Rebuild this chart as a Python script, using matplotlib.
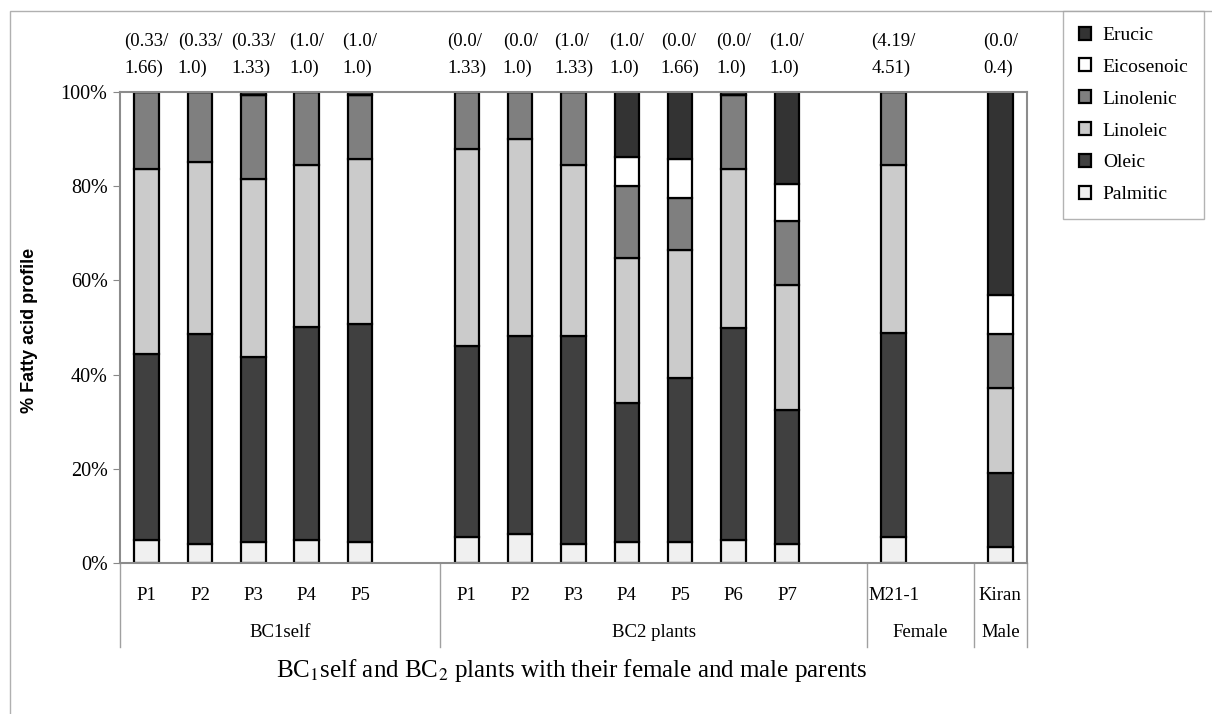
import numpy as np
import matplotlib
matplotlib.use("Agg")
from matplotlib import pyplot as plt
from matplotlib.patches import Patch, Rectangle
from matplotlib.transforms import blended_transform_factory

plt.rcParams["font.family"] = ["Liberation Serif", "DejaVu Serif"]
plt.rcParams["mathtext.fontset"] = "stix"

# bar labels, groups and the numbers printed above each bar
bar_labels = ["P1", "P2", "P3", "P4", "P5",
              "P1", "P2", "P3", "P4", "P5", "P6", "P7",
              "M21-1", "Kiran"]
bar_slots = [0, 1, 2, 3, 4, 6, 7, 8, 9, 10, 11, 12, 14, 16]
groups = ["BC1self", "BC2 plants", "Female", "Male"]
group_edges = [-0.5, 5.5, 13.5, 15.5, 16.5]
top_notes = ["(0.33/\n1.66)", "(0.33/\n1.0)", "(0.33/\n1.33)", "(1.0/\n1.0)", "(1.0/\n1.0)",
             "(0.0/\n1.33)", "(0.0/\n1.0)", "(1.0/\n1.33)", "(1.0/\n1.0)", "(0.0/\n1.66)",
             "(0.0/\n1.0)", "(1.0/\n1.0)", "(4.19/\n4.51)", "(0.0/\n0.4)"]

# fatty acid shares (%), bottom to top
palmitic   = [4.9, 4.0, 4.5, 4.9, 4.5, 5.6, 6.1, 4.0, 4.4, 4.4, 4.9, 4.0, 5.6, 3.5]
oleic      = [39.5, 44.6, 39.3, 45.3, 46.2, 40.4, 42.0, 44.1, 29.6, 34.9, 45.0, 28.5, 43.2, 15.7]
linoleic   = [39.2, 36.5, 37.7, 34.4, 35.0, 41.9, 41.9, 36.5, 30.8, 27.2, 33.7, 26.5, 35.8, 17.9]
linolenic  = [16.4, 14.9, 17.9, 15.4, 13.7, 12.1, 10.0, 15.4, 15.2, 11.0, 15.8, 13.6, 15.4, 11.5]
eicosenoic = [0.0, 0.0, 0.0, 0.0, 0.0, 0.0, 0.0, 0.0, 6.3, 8.3, 0.0, 7.9, 0.0, 8.3]
erucic     = [0.0, 0.0, 0.6, 0.0, 0.6, 0.0, 0.0, 0.0, 13.7, 14.2, 0.6, 19.5, 0.0, 43.1]

names = ["Palmitic", "Oleic", "Linoleic", "Linolenic", "Eicosenoic", "Erucic"]
colors = ["#f0f0f0", "#404040", "#cbcbcb", "#7f7f7f", "#ffffff", "#333333"]
series = [palmitic, oleic, linoleic, linolenic, eicosenoic, erucic]

fig = plt.figure(figsize=(12.12, 7.14), dpi=100)
ax = fig.add_axes([120/1212, 151/714, 907/1212, 471/714])

# outer chart frame
fig.patches.append(Rectangle((10/1212, -0.05), 1.1, 1.05 - 11/714, transform=fig.transFigure,
                             fill=False, edgecolor="#b0b0b0", linewidth=1))

x = np.array(bar_slots, dtype=float)
bottom = np.zeros(len(x))
for vals, name, col in zip(series, names, colors):
    v = np.array(vals)
    ax.bar(x, v, 0.46, bottom=bottom, color=col, edgecolor="black", linewidth=1.6, label=name)
    bottom += v

ax.set_xlim(-0.5, 16.5)
ax.set_ylim(0, 100)
ax.set_yticks([0, 20, 40, 60, 80, 100])
ax.set_yticklabels(["0%", "20%", "40%", "60%", "80%", "100%"], fontsize=14.5)
ax.tick_params(axis="y", length=5, color="#888888", pad=4)
for s in ax.spines.values():
    s.set_color("#8c8c8c")
    s.set_linewidth(1.5)

ax.set_xticks(x)
ax.set_xticklabels(bar_labels, fontsize=13.5)
ax.tick_params(axis="x", length=0, pad=17)

trans = blended_transform_factory(ax.transData, ax.transAxes)
for xe in group_edges:
    ax.plot([xe, xe], [0, -0.178], transform=trans, color="#a0a0a0", lw=1, clip_on=False)
for i, g in enumerate(groups):
    xc = (group_edges[i] + group_edges[i + 1]) / 2
    ax.text(xc, -0.1465, g, transform=trans, ha="center", va="center", fontsize=13.5)

for xi, note in zip(x, top_notes):
    ax.text(xi, 1.079, note, transform=trans, ha="center", va="center",
            fontsize=13.5, linespacing=1.7, multialignment="left")

fig.text(30/1212, 1 - 330/714, "% Fatty acid profile", rotation=90, ha="center", va="center",
         fontsize=13, fontweight="bold", family="Liberation Sans")
fig.text(572/1212, 1 - 670/714, r"BC$_1$self and BC$_2$ plants with their female and male parents",
         ha="center", va="center", fontsize=18)

handles = [Patch(facecolor=c, edgecolor="black", linewidth=1.6) for c in colors][::-1]
leg = fig.legend(handles, names[::-1], loc="upper left", bbox_to_anchor=(1063/1212, 1 - 11/714),
                 fontsize=14, frameon=True, fancybox=False, edgecolor="#a0a0a0",
                 handlelength=0.65, handleheight=0.65, handletextpad=0.6, labelspacing=0.75,
                 borderpad=0.8, borderaxespad=0)
leg.get_frame().set_linewidth(1)

fig.savefig("out.png", dpi=100)
